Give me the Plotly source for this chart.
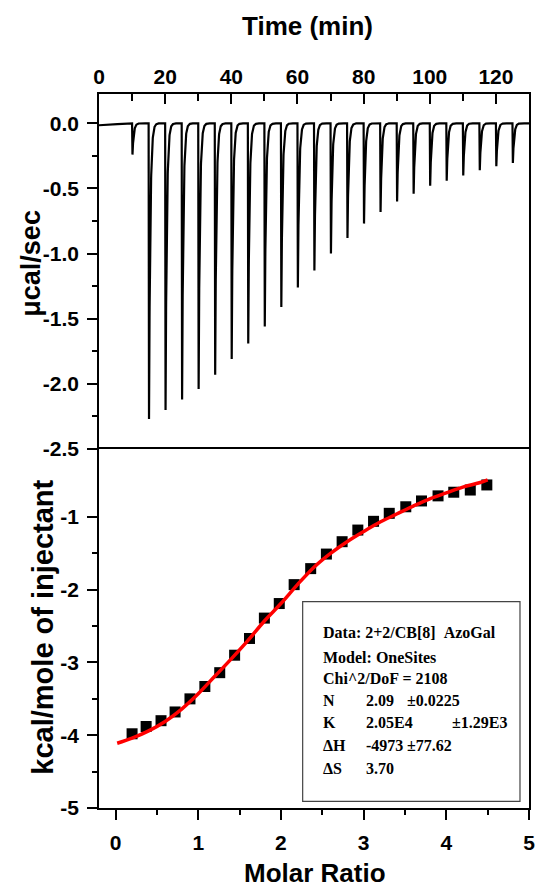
import numpy as np
import plotly.graph_objects as go

# ---- Raw thermogram: injection times (min) and peak heat rates (ucal/sec) ----
inj_time = [10, 15, 20, 25, 30, 35, 40, 45, 50, 55, 60, 65,
            70, 75, 80, 85, 90, 95, 100, 105, 110, 115, 120, 125]
peak_depth = [-0.24, -2.27, -2.20, -2.12, -2.04, -1.93, -1.81, -1.69,
              -1.56, -1.41, -1.26, -1.13, -1.00, -0.88, -0.77, -0.68,
              -0.60, -0.54, -0.48, -0.44, -0.40, -0.36, -0.33, -0.305]
# pre-titration baseline drift
base_time = [0, 10, 130]
base_val = [-0.015, 0.0, 0.0]

# ---- Integrated heats (kcal/mol of injectant) vs molar ratio ----
molar_ratio = [0.20, 0.37, 0.55, 0.72, 0.90, 1.08, 1.26, 1.44, 1.62, 1.80,
               1.98, 2.16, 2.36, 2.55, 2.74, 2.93, 3.12, 3.31, 3.51, 3.70,
               3.90, 4.09, 4.29, 4.49]
heat = [-3.98, -3.88, -3.80, -3.68, -3.50, -3.33, -3.14, -2.90, -2.67, -2.39,
        -2.19, -1.93, -1.71, -1.51, -1.34, -1.18, -1.06, -0.95, -0.86, -0.78,
        -0.71, -0.66, -0.63, -0.56]

# ---- One-site model fit curve ----
fit_x = [0.02, 0.20, 0.40, 0.60, 0.80, 1.00, 1.20, 1.40, 1.60, 1.80, 2.00,
         2.20, 2.40, 2.60, 2.80, 3.00, 3.20, 3.40, 3.60, 3.80, 4.00, 4.20,
         4.40, 4.50]
fit_y = [-4.11, -4.04, -3.94, -3.81, -3.64, -3.43, -3.19, -2.95, -2.70, -2.43,
         -2.19, -1.93, -1.69, -1.50, -1.34, -1.20, -1.07, -0.96, -0.85, -0.75,
         -0.67, -0.59, -0.53, -0.49]

# ---- Tick labels ----
time_ticks = [0, 20, 40, 60, 80, 100, 120]
time_labels = ["0", "20", "40", "60", "80", "100", "120"]
power_ticks = [0.0, -0.5, -1.0, -1.5, -2.0, -2.5]
power_labels = ["0.0", "-0.5", "-1.0", "-1.5", "-2.0", "-2.5"]
heat_ticks = [-1, -2, -3, -4, -5]
heat_labels = ["-1", "-2", "-3", "-4", "-5"]
ratio_ticks = [0, 1, 2, 3, 4, 5]
ratio_labels = ["0", "1", "2", "3", "4", "5"]

# ---- Fit parameter box text ----
fit_rows = [
    ["Data: 2+2/CB[8]\u00a0\u00a0AzoGal"],
    ["Model: OneSites"],
    ["Chi^2/DoF = 2108"],
    ["N", "2.09", "\u00b10.0225"],
    ["K", "2.05E4", "", "\u00b11.29E3"],
    ["\u0394H", "-4973", "\u00b177.62"],
    ["\u0394S", "3.70"],
]

# Build the continuous power trace from the injection peaks
t = np.arange(0, 130.0001, 0.02)
power = np.interp(t, base_time, base_val)
rise, tau = 0.12, 0.38
for t0, d in zip(inj_time, peak_depth):
    dt = t - t0
    up = (dt >= 0) & (dt < rise)
    down = dt >= rise
    power[up] += d * dt[up] / rise
    power[down] += d * np.exp(-(dt[down] - rise) / tau)

SANS = "Liberation Sans, Arial"
SERIF = "Liberation Serif, Times New Roman"

fig = go.Figure()
fig.add_trace(go.Scatter(x=t, y=power, xaxis="x2", yaxis="y2", mode="lines",
                         line=dict(color="black", width=2.2), hoverinfo="skip"))
fig.add_trace(go.Scatter(x=molar_ratio, y=heat, xaxis="x", yaxis="y", mode="markers",
                         marker=dict(symbol="square", size=11, color="black")))
fig.add_trace(go.Scatter(x=fit_x, y=fit_y, xaxis="x", yaxis="y", mode="lines",
                         line=dict(color="#ff0000", width=3.5, shape="spline")))

split = 359 / 714
tickfont = dict(family=SANS, size=21, color="black", weight="bold")
axis_common = dict(showline=True, linecolor="black", linewidth=1.5,
                   showgrid=False, zeroline=False, tickcolor="black", tickwidth=1.5,
                   tickfont=tickfont, tickmode="array")

fig.update_layout(
    width=545, height=888,
    margin=dict(l=99, r=10, t=94, b=80),
    paper_bgcolor="white", plot_bgcolor="white",
    showlegend=False,
    # molar ratio axis (bottom panel); its mirror line is the shared panel border
    xaxis=dict(domain=[0, 1], anchor="y", range=[-0.2, 5], side="bottom", mirror=True,
               ticks="outside", ticklen=10, tickvals=ratio_ticks, ticktext=ratio_labels,
               ticklabelstandoff=5,
               minor=dict(tickmode="array", tickvals=[0.5, 1.5, 2.5, 3.5, 4.5],
                          ticks="outside", ticklen=5, tickwidth=1.5, tickcolor="black"),
               **axis_common),
    # inward ticks along the top edge of the bottom panel
    xaxis3=dict(overlaying="x", anchor="y", side="top", range=[-0.2, 5],
                showline=False, showgrid=False, zeroline=False,
                ticks="inside", ticklen=11, tickwidth=1.5, tickcolor="black",
                tickmode="array", tickvals=ratio_ticks, showticklabels=False,
                minor=dict(tickmode="array", tickvals=[0.5, 1.5, 2.5, 3.5, 4.5],
                           ticks="inside", ticklen=5, tickwidth=1.5, tickcolor="black")),
    yaxis=dict(domain=[0, split], anchor="x", range=[-5, -0.066], mirror=True,
               ticks="outside", ticklen=10, tickvals=heat_ticks, ticktext=heat_labels,
               ticklabelstandoff=4,
               minor=dict(tickmode="array", tickvals=[-1.5, -2.5, -3.5, -4.5],
                          ticks="outside", ticklen=5, tickwidth=1.5, tickcolor="black"),
               **axis_common),
    xaxis2=dict(domain=[0, 1], anchor="y2", range=[0, 130], side="top", mirror=False,
                ticks="inside", ticklen=10, tickvals=time_ticks, ticktext=time_labels,
                ticklabelstandoff=0,
                minor=dict(tickmode="array", tickvals=[10, 30, 50, 70, 90, 110],
                           ticks="inside", ticklen=7, tickwidth=1.5, tickcolor="black"),
                **axis_common),
    yaxis2=dict(domain=[split, 1], anchor="x2", range=[-2.5, 0.225], mirror=True,
                ticks="outside", ticklen=10, tickvals=power_ticks, ticktext=power_labels,
                ticklabelstandoff=4,
                minor=dict(tickmode="array", tickvals=[-0.25, -0.75, -1.25, -1.75, -2.25],
                           ticks="outside", ticklen=5, tickwidth=1.5, tickcolor="black"),
                **axis_common),
)

# fit-parameter box
fig.add_shape(type="rect", xref="x", yref="y", x0=2.263, x1=4.891, y0=-4.908, y1=-2.163,
              line=dict(color="#444444", width=1.2), fillcolor="rgba(0,0,0,0)", layer="above")
col_x = [2.49, 3.0, 3.505, 4.04]
row_y = [-2.594, -2.926, -3.225, -3.524, -3.828, -4.135, -4.457]
for ry, row in zip(row_y, fit_rows):
    for cx, txt in zip(col_x, row):
        if txt:
            fig.add_annotation(x=cx, y=ry, xref="x", yref="y", text=txt, showarrow=False,
                               xanchor="left", yanchor="middle",
                               font=dict(family=SERIF, size=16, color="black", weight="bold"))

# axis titles
title_font = dict(family=SANS, size=26, color="black", weight="bold")
fig.add_annotation(x=0.486, y=1.095, xref="paper", yref="paper", text="Time (min)",
                   showarrow=False, xanchor="center", yanchor="middle", font=title_font)
fig.add_annotation(x=0.502, y=-0.091, xref="paper", yref="paper", text="Molar Ratio",
                   showarrow=False, xanchor="center", yanchor="middle", font=title_font)
fig.add_annotation(x=-0.157, y=0.763, xref="paper", yref="paper", text="\u03bccal/sec",
                   showarrow=False, textangle=-90, xanchor="center", yanchor="middle",
                   font=dict(family=SANS, size=27, color="black", weight="bold"))
fig.add_annotation(x=-0.131, y=0.2535, xref="paper", yref="paper", text="kcal/mole of injectant",
                   showarrow=False, textangle=-90, xanchor="center", yanchor="middle",
                   font=dict(family=SANS, size=29, color="black", weight="bold"))

fig.write_html("out.html")
